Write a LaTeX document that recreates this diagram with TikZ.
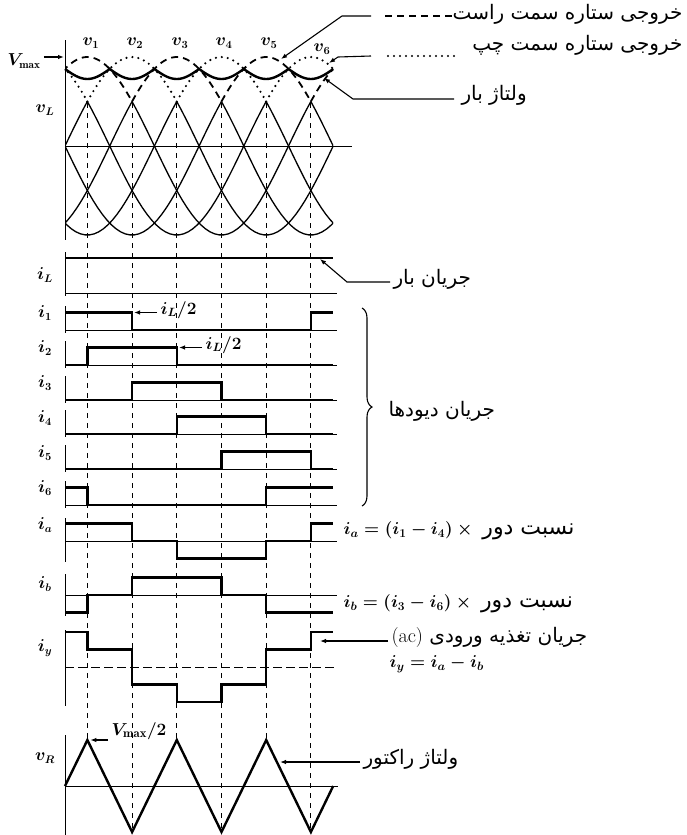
\documentclass[tikz,border=0pt]{standalone}
\usepackage{amsmath}
\usepackage{fontspec}
\newfontfamily\arabicfont[Script=Arabic]{DejaVu Sans}
\TeXXeTstate=1
\usetikzlibrary{arrows.meta,decorations.pathreplacing}
\newcommand\fa[1]{{\arabicfont\beginR #1\endR}}
% step waveform: zero level, first level, levels per interval
\newcommand\pulse[3]{\draw[sig] (65,{#1-17.5*(#2)})
  \foreach \lv [count=\j] in {#3}{ |- ({min(65+22.35*(2*\j-1),333.2)},{#1-17.5*(\lv)}) };}

\begin{document}
\begin{tikzpicture}[x=1pt,y=-1pt,font=\fontsize{16}{18}\selectfont\boldmath,>={Latex[length=6pt,width=4.5pt]},
  ax/.style={line width=.9pt},
  sig/.style={line width=2.4pt},
  wave/.style={line width=1.3pt},
  vguide/.style={line width=1pt,dash pattern=on 5pt off 5pt},
  rstar/.style={line width=1.8pt,dash pattern=on 7pt off 5pt},
  lstar/.style={line width=2.4pt,dash pattern=on 0pt off 6pt,line cap=round},
  lead/.style={line width=1.1pt},
  fa/.style={font=\fontsize{20}{22}\selectfont},
  eq/.style={font=\fontsize{18}{20}\selectfont\boldmath}]
\useasboundingbox (0,0) rectangle (687,835);

% load voltage v_L
\draw[ax] (65,40) -- (65,240);
\draw[ax] (65,146) -- (352,146);
\begin{scope}
\clip (65,0) rectangle (333.2,250);
\foreach \ph/\st in {30/rstar,90/lstar,150/rstar,210/lstar,270/rstar,330/lstar}{
  \foreach \n in {-360,0,360}{
    \draw[wave] plot[domain=\ph+\n+60:\ph+\n+300,samples=40] ({65+0.745*\x},{146-89*cos(\x-\ph)});
    \draw[\st] plot[domain=\ph+\n-60:\ph+\n+60,samples=30] ({65+0.745*\x},{146-89*cos(\x-\ph)});
  }
}
\end{scope}
\draw[sig] plot[domain=0:360,samples=145] ({65+0.745*\x},{69+10*abs(sin(3*\x))});
\foreach \k/\px/\py in {1/91,2/135,3/180,4/224,5/269}
  \node (v\k) at (\px,43) {$v_\k$};
\node (v6) at (322,49) {$v_6$};
\node (vmax) at (24,61) {$V_{\max}$};
\coordinate (vmaxtip) at (64,57);
\draw[lead,->] (vmax.east |- vmaxtip) -- (vmaxtip);

% guides down to the reactor voltage corners
\foreach \k/\yy in {1/740,2/832,3/740,4/832,5/740,6/832}{
  \coordinate (c\k) at ({87.4+44.7*(\k-1)},103);
  \coordinate (r\k) at ({87.4+44.7*(\k-1)},\yy);
  \draw[vguide] (c\k) -- (r\k);
}

% legend on the right
\node[fa,anchor=east] (rs) at (686,14) {\fa{خروجی ستاره سمت راست}};
\node[fa,anchor=east] (ls) at (686,45) {\fa{خروجی ستاره سمت چپ}};
\node[fa,anchor=west] (vb) at (458,95) {\fa{ولتاژ بار}};
\coordinate (rtip) at (281,59);
\coordinate (ltip) at (329,63);
\coordinate (vtip) at (324,78);
\coordinate (rsA) at (385,16);
\coordinate (lsA) at (388,56);
\draw[rstar] (rsA) -- (452,16);
\draw[lstar] (lsA) -- (454,56);
\draw[lead,->] (rsA) ++(-14,0) -- (342,16) -- (rtip);
\draw[lead,->] (lsA) ++(-17,0) -- (338,57) -- (ltip);
\draw[lead,->] (vb.west) ++(-4,4) -- (353,99) -- (vtip);

% currents
\foreach \yz in {293,330,365,400,434,469,505,541,595} \draw[ax] (65,\yz) -- (337,\yz);
\draw[ax,dash pattern=on 9pt off 4pt] (65,667) -- (337,667);
\draw[ax] (65,252) -- (65,296);
\foreach \yz in {330,365,400,434,469,505} \draw[ax] (65,\yz-24) -- (65,\yz+3);
\draw[ax] (65,518) -- (65,562);
\draw[ax] (65,574) -- (65,616);
\draw[ax] (65,630) -- (65,706);
\pulse{293}{2}{2,2,2,2,2,2,2}
\pulse{330}{1}{1,1,0,0,0,0,1}
\pulse{365}{0}{0,1,1,0,0,0,0}
\pulse{400}{0}{0,0,1,1,0,0,0}
\pulse{434}{0}{0,0,0,1,1,0,0}
\pulse{469}{0}{0,0,0,0,1,1,0}
\pulse{505}{1}{1,0,0,0,0,1,1}
\pulse{541}{1}{1,1,0,-1,-1,0,1}
\pulse{595}{-1}{-1,0,1,1,0,-1,-1}
\pulse{667}{2}{2,1,-1,-2,-1,1,2}
\foreach \n/\t/\yy in {vL/v_L/110,iL/i_L/275,i1/i_1/313,i2/i_2/348,i3/i_3/383,i4/i_4/418,
  i5/i_5/453,i6/i_6/488,ia/i_a/525,ib/i_b/584,iy/i_y/648,vR/v_R/758}
  \node (l\n) at (45,\yy) {$\t$};
\coordinate (h1) at (134,312.5);
\coordinate (h2) at (179,347.5);
\node[anchor=west,font=\fontsize{17}{19}\selectfont\boldmath] (half1) at (157,310) {$i_L/2$};
\node[anchor=west,font=\fontsize{17}{19}\selectfont\boldmath] (half2) at (202,345) {$i_L/2$};
\draw[lead,->] (half1.west |- h1) -- (h1);
\draw[lead,->] (half2.west |- h2) -- (h2);

\node[fa,anchor=west] (jb) at (390,279) {\fa{جریان بار}};
\coordinate (iltip) at (320,259);
\draw[lead,->] (jb.west) ++(0,3) -- (347,282) -- (iltip);
\draw[lead,decorate,decoration={brace,amplitude=10pt}] (362,308) -- (362,506);
\node[fa,anchor=west] (jd) at (385,411) {\fa{جریان دیودها}};

\node[eq,anchor=west] (fia) at (340,531) {$i_a=(i_1-i_4)\times{}$ {\fontsize{22}{24}\selectfont\fa{نسبت دور}}};
\node[eq,anchor=west] (fib) at (340,604) {$i_b=(i_3-i_6)\times{}$ {\fontsize{22}{24}\selectfont\fa{نسبت دور}}};
\node[fa,anchor=west] (ac) at (388,637) {\fa{جریان تغذیه ورودی \beginL{\rmfamily(ac)}\endL}};
\coordinate (iytip) at (320,641);
\draw[lead,->] (ac.west |- iytip) -- (iytip);
\node[eq,anchor=west] (fiy) at (386,664) {$i_y=i_a-i_b$};

% reactor voltage v_R
\draw[ax] (65,735) -- (65,835);
\draw[ax] (65,786) -- (338,786);
\coordinate (vr0) at (65,786);
\coordinate (vr7) at (333.2,786);
\draw[sig] (vr0) -- (r1) -- (r2) -- (r3) -- (r4) -- (r5) -- (r6) -- (vr7);
\node[anchor=west,font=\fontsize{18}{20}\selectfont\boldmath] (vhalf) at (108,731) {$V_{\max}/2$};
\draw[lead,->] (vhalf.west |- r1) -- ([xshift=3pt]r1);
\node[fa,anchor=west] (vr) at (360,759) {\fa{ولتاژ راکتور}};
\coordinate (vrtip) at (280,762);
\draw[lead,->] (vr.west |- vrtip) -- (vrtip);
\end{tikzpicture}
\end{document}
